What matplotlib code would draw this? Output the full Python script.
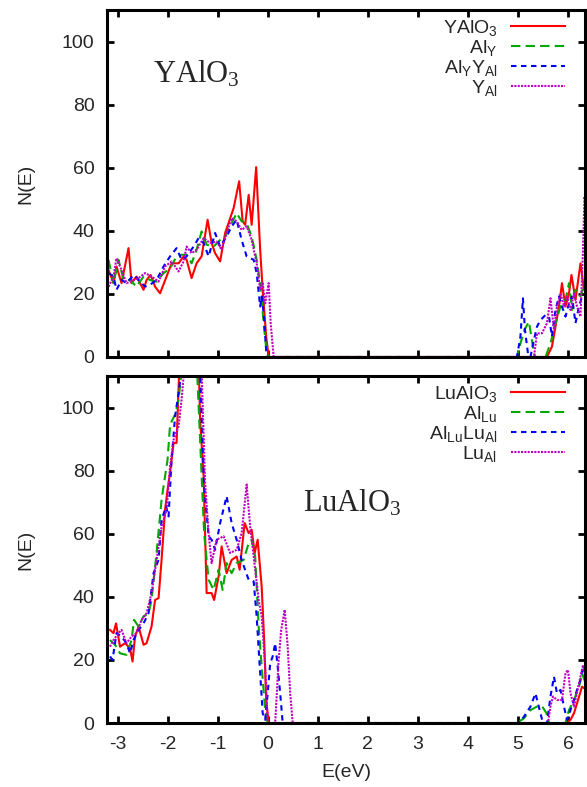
import matplotlib
matplotlib.use("Agg")
import matplotlib.pyplot as plt

plt.rcParams['font.family'] = ['Liberation Sans', 'DejaVu Sans']
plt.rcParams['mathtext.default'] = 'regular'
plt.rcParams['axes.unicode_minus'] = False

# -------------------------------
# DATA  (E in eV, N(E))
# -------------------------------
# YAlO3 panel
y_red_E = [-3.18, -3.08, -3.02, -2.92, -2.78, -2.72, -2.62, -2.48, -2.42, -2.34, -2.25, -2.15, -2.02,
           -1.92, -1.78, -1.68, -1.62, -1.52, -1.42, -1.32, -1.20, -1.12, -1.05, -0.95, -0.85, -0.68,
           -0.57, -0.50, -0.45, -0.38, -0.32, -0.23, -0.15, -0.10, -0.03, 0.02,
           5.58, 5.68, 5.75, 5.82, 5.88, 5.95, 6.02, 6.07, 6.15, 6.25, 6.32, 6.38]
y_red_N = [27.6, 23.4, 28.7, 23.4, 34.5, 23.4, 25.5, 21.3, 24.4, 26.0, 22.3, 20.2, 25.5,
           29.7, 29.7, 31.9, 30.8, 25.0, 29.7, 31.9, 43.5, 36.1, 32.9, 30.3, 39.3, 47.2,
           55.7, 43.0, 41.9, 51.4, 41.9, 60.2, 34.0, 21.3, 6.5, 0,
           0, 3.3, 9.6, 16.0, 23.4, 16.0, 20.2, 26.0, 18.1, 29.7, 21.3, 23.4]

y_grn_E = [-3.18, -3.08, -2.98, -2.88, -2.75, -2.62, -2.48, -2.35, -2.22, -2.08, -1.95, -1.82, -1.72,
           -1.62, -1.52, -1.42, -1.32, -1.22, -1.08, -0.95, -0.85, -0.75, -0.62, -0.52, -0.42, -0.32,
           -0.22, -0.15, -0.08, -0.02, 0.02,
           4.98, 5.05, 5.13, 5.22, 5.32, 5.35, 5.55, 5.65, 5.75, 5.85, 5.95, 6.02, 6.08, 6.15, 6.25, 6.38]
y_grn_N = [30.8, 23.4, 30.8, 24.4, 24.4, 22.3, 25.5, 24.4, 23.9, 26.6, 28.1, 31.9, 32.4,
           32.4, 29.7, 34.0, 39.8, 35.6, 35.0, 37.1, 38.2, 41.4, 45.6, 43.0, 42.4, 38.2,
           30.8, 23.4, 10.7, 1.2, 0,
           0, 4.3, 8.6, 11.2, 1.2, 0, 0, 4.3, 10.7, 16.0, 18.1, 23.4, 14.9, 21.3, 19.2, 25.5]

y_blu_E = [-3.18, -3.08, -3.02, -2.92, -2.82, -2.68, -2.58, -2.45, -2.35, -2.22, -2.08, -1.95, -1.82,
           -1.72, -1.62, -1.48, -1.38, -1.28, -1.18, -1.05, -0.95, -0.82, -0.72, -0.62, -0.52, -0.42,
           -0.28, -0.22, -0.15, -0.12, -0.08, -0.04, -0.02,
           4.98, 5.05, 5.10, 5.14, 5.20, 5.25, 5.32, 5.38, 5.45, 5.55, 5.62, 5.68, 5.75, 5.82, 5.88,
           5.95, 6.02, 6.08, 6.15, 6.22, 6.28, 6.38]
y_blu_N = [26.6, 25.5, 21.3, 24.4, 23.4, 26.0, 24.4, 22.3, 22.9, 24.4, 28.7, 31.9, 34.5,
           30.8, 31.9, 35.0, 37.7, 36.1, 31.9, 39.3, 35.0, 38.2, 41.4, 43.5, 37.1, 31.9,
           30.8, 26.6, 16.0, 19.2, 13.9, 4.3, 0,
           0, 6.5, 18.6, 8.6, 1.2, 0, 5.4, 9.6, 11.7, 13.3, 12.8, 6.5, 14.9, 19.2, 16.0,
           12.8, 17.0, 19.2, 10.7, 16.0, 19.2, 20.2]

y_mag_E = [-3.18, -3.08, -3.02, -2.92, -2.82, -2.68, -2.58, -2.45, -2.32, -2.18, -2.05, -1.92, -1.78,
           -1.68, -1.62, -1.52, -1.42, -1.28, -1.15, -1.02, -0.92, -0.82, -0.72, -0.62, -0.52, -0.42,
           -0.32, -0.22, -0.15, -0.10, -0.05, 0.02, 0.06, 0.12,
           5.32, 5.38, 5.48, 5.58, 5.65, 5.72, 5.78, 5.85, 5.92, 5.98, 6.05, 6.12, 6.18, 6.25, 6.30,
           6.33, 6.38]
y_mag_N = [22.3, 25.5, 31.3, 27.6, 23.4, 24.4, 25.0, 26.6, 25.5, 23.9, 28.7, 30.3, 27.1,
           30.3, 35.0, 32.9, 34.0, 37.7, 36.1, 36.6, 34.0, 39.3, 44.0, 43.0, 40.3, 41.4,
           37.1, 29.7, 21.3, 23.4, 17.0, 23.4, 10.7, 0,
           0, 7.5, 7.5, 10.7, 18.6, 8.6, 16.0, 20.2, 16.0, 19.2, 14.9, 20.2, 16.0, 12.8, 34.0,
           50.9, 44.6]

# LuAlO3 panel (peak near -1.6 eV runs off the top of the frame)
l_red_E = [-3.15, -3.08, -3.03, -2.95, -2.85, -2.75, -2.70, -2.65, -2.58, -2.48, -2.42, -2.32, -2.25,
           -2.18, -2.12, -2.05, -2.00, -1.95, -1.88, -1.82, -1.76, -1.60, -1.38, -1.35, -1.28, -1.22,
           -1.12, -1.07, -0.98, -0.92, -0.82, -0.72, -0.62, -0.56, -0.46, -0.38, -0.32, -0.26, -0.20,
           -0.12, -0.07, -0.03, 0.02,
           5.98, 6.05, 6.12, 6.18, 6.28, 6.38]
l_red_N = [29.5, 28.5, 31.6, 24.2, 25.3, 23.7, 19.5, 27.4, 30.6, 24.8, 25.3, 30.6, 39.0,
           39.6, 51.7, 67.6, 74.0, 79.3, 88.8, 88.8, 115, 130, 115, 96.2, 78.2, 41.2,
           41.2, 39.0, 46.5, 56.0, 47.5, 51.7, 52.8, 48.6, 63.4, 60.2, 61.3, 53.9, 58.1,
           43.3, 26.3, 7.3, 0,
           0, 1.0, 3.1, 6.2, 11.5, 10.5]

l_grn_E = [-3.15, -3.05, -2.95, -2.82, -2.72, -2.67, -2.58, -2.48, -2.38, -2.32, -2.22, -2.12, -2.00,
           -1.95, -1.85, -1.78, -1.60, -1.42, -1.35, -1.27, -1.18, -1.08, -0.98, -0.90, -0.82, -0.72,
           -0.62, -0.48, -0.38, -0.32, -0.25, -0.18, -0.12, -0.05, 0.00,
           4.98, 5.12, 5.25, 5.38, 5.48, 5.57, 5.62, 5.95, 6.02, 6.12, 6.22, 6.28, 6.38]
l_grn_N = [26.3, 24.8, 22.1, 21.6, 26.3, 32.7, 30.6, 33.8, 34.8, 39.0, 53.9, 70.8, 83.5,
           94.6, 97.8, 102.5, 130, 115, 89.8, 60.2, 45.4, 42.2, 48.6, 42.2, 50.7, 47.5,
           50.7, 51.7, 57.0, 58.1, 52.8, 30.6, 17.9, 4.1, 0,
           0, 1.5, 4.1, 5.2, 5.4, 3.1, 0, 0, 4.1, 7.3, 11.5, 15.8, 11.5]

l_blu_E = [-3.15, -3.10, -3.02, -2.92, -2.82, -2.75, -2.68, -2.58, -2.48, -2.38, -2.28, -2.18, -2.12,
           -2.03, -1.98, -1.92, -1.85, -1.80, -1.60, -1.35, -1.27, -1.18, -1.12, -1.05, -0.95, -0.82,
           -0.72, -0.62, -0.52, -0.38, -0.28, -0.22, -0.15, -0.10, -0.05, 0.00, 0.05, 0.10, 0.15,
           0.20, 0.25, 0.30,
           5.02, 5.12, 5.25, 5.35, 5.45, 5.50, 5.58, 5.65, 5.72, 5.78, 5.85, 5.92, 5.98, 6.05, 6.12,
           6.18, 6.25, 6.30, 6.38]
l_blu_N = [21.1, 20.0, 28.5, 27.4, 25.3, 22.1, 26.3, 29.5, 31.6, 34.8, 47.5, 51.7, 64.4,
           68.7, 65.5, 83.5, 97.2, 102.5, 125, 112, 75.0, 59.2, 58.1, 54.9, 63.4, 71.9,
           63.4, 58.1, 51.7, 45.4, 44.9, 33.8, 15.8, 3.1, 1.0, 9.4, 18.9, 21.1, 25.3,
           17.9, 9.4, 0,
           0, 2.0, 5.2, 9.4, 3.1, 0, 0, 8.4, 14.7, 9.4, 10.5, 5.2, 1.0, 4.1, 7.3,
           10.5, 13.7, 17.9, 13.7]

l_mag_E = [-3.15, -3.08, -2.98, -2.92, -2.82, -2.72, -2.62, -2.52, -2.42, -2.32, -2.22, -2.12, -2.02,
           -1.95, -1.88, -1.78, -1.72, -1.58, -1.32, -1.25, -1.18, -1.12, -1.02, -0.88, -0.75, -0.62,
           -0.52, -0.42, -0.35, -0.28, -0.18, -0.12, -0.05, 0.00, 0.15, 0.22, 0.27, 0.34, 0.40,
           0.45, 0.50,
           5.60, 5.65, 5.70, 5.78, 5.88, 5.95, 6.00, 6.05, 6.12, 6.22, 6.30, 6.38]
l_mag_N = [24.2, 26.3, 28.5, 29.5, 25.3, 27.4, 28.5, 32.7, 34.8, 41.2, 51.7, 62.3, 67.6,
           81.4, 89.8, 94.1, 102.5, 128, 112, 76.1, 60.2, 50.7, 58.1, 59.2, 53.9, 54.9,
           60.2, 75.6, 62.3, 52.8, 39.0, 33.8, 17.9, 0, 0, 20.0, 29.5, 35.9, 24.2,
           9.4, 0,
           0, 5.2, 8.4, 7.3, 7.3, 15.8, 16.8, 9.4, 5.2, 12.6, 18.4, 13.7]

top_labels = ['YAlO$_3$', 'Al$_Y$', 'Al$_Y$Y$_{Al}$', 'Y$_{Al}$']
bot_labels = ['LuAlO$_3$', 'Al$_{Lu}$', 'Al$_{Lu}$Lu$_{Al}$', 'Lu$_{Al}$']
xticks = [-3, -2, -1, 0, 1, 2, 3, 4, 5, 6]
yticks = [0, 20, 40, 60, 80, 100]

# -------------------------------
# STYLES
# -------------------------------
styles = [
    dict(color='#ff0000', lw=1.5, ls='-'),
    dict(color='#00a800', lw=1.5, ls=(0, (4.5, 2.5))),
    dict(color='#0000ff', lw=1.5, ls=(0, (2.6, 2.2))),
    dict(color='#c000c0', lw=1.5, ls=(0, (1.0, 0.6))),
]
txt = '#262626'

# -------------------------------
# PLOTS
# -------------------------------
fig = plt.figure(figsize=(5.87, 7.87), dpi=100)
ax1 = fig.add_axes([0.1823, 0.5464, 0.8143, 0.4409])
ax2 = fig.add_axes([0.1823, 0.0813, 0.8143, 0.4409])

panels = [
    (ax1, [(y_red_E, y_red_N), (y_grn_E, y_grn_N), (y_blu_E, y_blu_N), (y_mag_E, y_mag_N)], top_labels),
    (ax2, [(l_red_E, l_red_N), (l_grn_E, l_grn_N), (l_blu_E, l_blu_N), (l_mag_E, l_mag_N)], bot_labels),
]

for ax, curves, labels in panels:
    for (E, N), st, lab in zip(curves, styles, labels):
        ax.plot(E, N, label=lab, zorder=2, **st)
    ax.set_xlim(-3.21, 6.34)
    ax.set_ylim(0, 110)
    ax.set_xticks(xticks)
    ax.set_yticks(yticks)
    ax.tick_params(direction='in', length=5, width=2, top=True, right=True,
                   labelsize=14, labelcolor=txt, pad=9)
    for sp in ax.spines.values():
        sp.set_linewidth(2.2)
    ax.set_ylabel('N(E)', fontsize=14, color=txt, labelpad=20)
    leg = ax.legend(loc='upper right', frameon=False, markerfirst=False, fontsize=14,
                    handlelength=2.8, handletextpad=0.7, labelspacing=0.0,
                    borderaxespad=0.0, bbox_to_anchor=(0.975, 1.0))
    for t in leg.get_texts():
        t.set_color(txt)

ax1.tick_params(labelbottom=False)
ax2.set_xlabel('E(eV)', fontsize=14, color=txt, labelpad=8)

ax1.text(-2.29, 87, 'YAlO$_3$', family='Liberation Serif', fontsize=22, color=txt)
ax2.text(0.71, 67, 'LuAlO$_3$', family='Liberation Serif', fontsize=22, color=txt)

plt.savefig('out.png', dpi=100)
